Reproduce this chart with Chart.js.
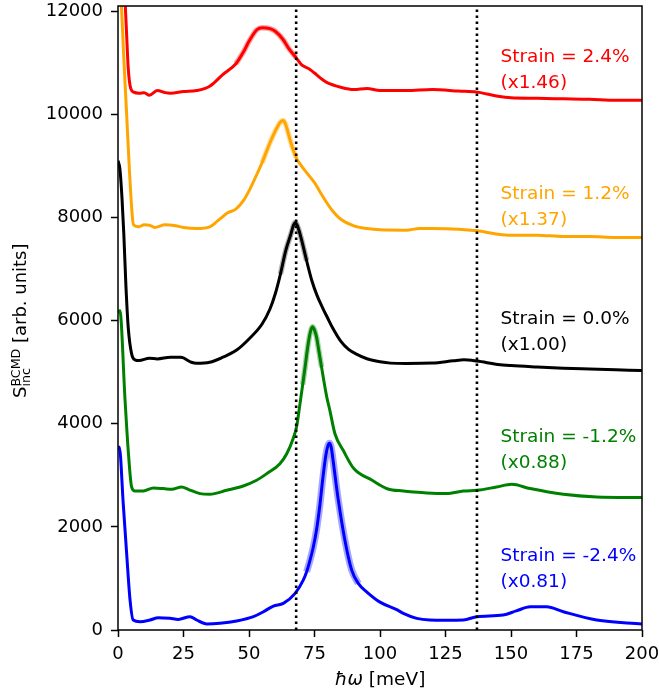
<!DOCTYPE html>
<html><head><meta charset="utf-8">
<script src="https://cdn.jsdelivr.net/npm/chart.js@4.4.1/dist/chart.umd.min.js"></script>
<style>html,body{margin:0;padding:0;background:#fff;}canvas{display:block;}</style>
</head><body>
<canvas id="c" width="659" height="696"></canvas>
<script>
// ---- data (energy in meV, intensity in arb. units, already scaled & offset as plotted) ----
const energyRed = [0,1,2,2.7,3.3,3.9,4.8,6,8,10,12,15,18,20,25,30,35,40,45,48,50,53,55,58,60,63,65,68,70,73,75,78,80,85,90,95,100,110,120,130,137,145,150,160,170,180,190,200];
const strainRed = [16000,14500,13000,12200,11540,10900,10510,10430,10410,10420,10370,10460,10420,10410,10440,10460,10545,10770,10980,11220,11415,11640,11680,11660,11610,11450,11290,11095,10965,10880,10800,10675,10610,10525,10480,10500,10460,10460,10480,10450,10430,10350,10320,10310,10300,10290,10270,10270];

const energyOrange = [0,1.4,2.3,3.3,4.3,5.5,6,8,10,12,14,18,22,25,30,35,38,42,45,48,50,53,55,58,60,61,62,63,63.8,64.5,66,68,70,73,75,78,80,82,85,90,95,100,110,115,120,130,137,145,150,160,170,180,190,200];
const strainOrange = [13500,12000,11000,10000,8970,8000,7850,7820,7856,7850,7805,7856,7837,7805,7785,7817,7933,8094,8160,8334,8514,8837,9062,9449,9675,9770,9850,9880,9830,9720,9449,9160,9000,8805,8675,8420,8260,8120,7966,7837,7785,7760,7753,7785,7785,7772,7740,7676,7656,7656,7630,7630,7611,7611];

const energyBlack = [0,0.7,1.5,2.2,3,3.9,5.2,6.5,8,12,15,20,24,28,30,35,40,45,50,55,58,60,62,64,66,67,67.6,68.3,69,70,72,74,76,78,80,82,85,88,91,95,100,104,110,120,128,132,137,145,150,160,170,180,190,200];
const strainBlack = [9100,8950,8400,7700,6700,5869,5354,5238,5225,5269,5256,5289,5289,5192,5172,5192,5289,5418,5644,5934,6225,6515,6902,7353,7680,7850,7900,7860,7760,7579,7160,6773,6483,6257,6050,5850,5600,5440,5350,5260,5200,5175,5170,5175,5220,5240,5215,5150,5128,5100,5076,5060,5045,5030];

const energyGreen = [0,0.7,2.7,3.9,5.2,6.5,9.7,13.5,17.3,20.5,24.3,26.8,31.3,35,41.5,47.8,52.9,56.8,61.8,64.4,66.9,68.2,69.5,70.5,71.4,72.3,73,73.7,74.3,74.9,75.8,76.7,77.7,79.7,80.9,82.8,86,90,97,103,108.9,112.7,117.8,125.4,131.8,137,144.5,150.3,157.3,170,182.7,200];
const strainGreen = [6150,6190,4450,3483,2773,2696,2696,2754,2742,2728,2773,2728,2645,2632,2709,2792,2903,3032,3226,3419,3720,3950,4400,4760,5095,5450,5675,5830,5880,5830,5675,5400,5095,4514,4250,3806,3480,3130,2903,2735,2696,2677,2657,2645,2696,2709,2773,2825,2742,2632,2580,2567];

const energyBlue = [0,0.5,2,3.3,4.6,5.8,8.4,12.2,15.4,19.8,23,27.5,30,33.9,38.9,45.3,51.7,55.5,59.3,63.1,67.6,70.7,72,73.3,74.5,75.8,77,78.2,79.3,80.1,80.7,81.3,82.2,83.2,84.1,86.6,89.2,91.7,94.9,100,106.4,108.9,114,119,125,131.8,137,147,152,157.3,163.6,170,182.7,200];
const strainBlue = [3500,3547,2452,1484,580,194,161,194,238,226,206,258,194,116,129,174,258,354,464,516,710,968,1130,1355,1600,1950,2400,2950,3380,3570,3620,3560,3250,2850,2516,1742,1161,903,741,540,395,323,226,194,190,194,258,290,370,451,451,354,194,116];

const seriesNames = ['Strain = 2.4%','Strain = 1.2%','Strain = 0.0%','Strain = -1.2%','Strain = -2.4%'];
const scaleFactors = ['(x1.46)','(x1.37)','(x1.00)','(x0.88)','(x0.81)'];
const labelAnchorE = 146;
const labelAnchorY = [11110, 8450, 6031, 3740, 1432];
const markerEnergies = [68, 137];
const xTicks = [0,25,50,75,100,125,150,175,200];
const yTicks = [0,2000,4000,6000,8000,10000,12000];
// energy windows where the uncertainty band is visibly wider than the line
const bandWindows = [[44,68],[55,69],[62,73],[70,79],[72,92]];

// ---- styling ----
const colors = ['#ff0000','#ffa500','#000000','#008000','#0000ff'];
const bandColors = ['rgba(255,0,0,0.35)','rgba(255,165,0,0.35)','rgba(0,0,0,0.3)','rgba(0,128,0,0.35)','rgba(0,0,255,0.35)'];
const FONT = '"DejaVu Sans", sans-serif';
const pts = (xs, ys) => xs.map((x, i) => ({x, y: ys[i]}));
const curves = [
  pts(energyRed, strainRed), pts(energyOrange, strainOrange), pts(energyBlack, strainBlack),
  pts(energyGreen, strainGreen), pts(energyBlue, strainBlue)
];
const datasets = [];
markerEnergies.forEach(e => datasets.push({
  data: [{x: e, y: yTicks[0]}, {x: e, y: 12100}],
  borderColor: '#000', borderWidth: 2.6, borderDash: [2.6, 3.4], pointRadius: 0, order: 0
}));
curves.forEach((d, i) => datasets.push({
  label: seriesNames[i], data: d, borderColor: colors[i], borderWidth: 3,
  pointRadius: 0, cubicInterpolationMode: 'monotone', order: 1
}));
curves.forEach((d, i) => datasets.push({
  data: d.filter(p => p.x >= bandWindows[i][0] && p.x <= bandWindows[i][1]),
  borderColor: bandColors[i], borderWidth: i === 4 ? 7 : 5.5,
  pointRadius: 0, cubicInterpolationMode: 'monotone', order: 2
}));

const decor = {
  id: 'decor',
  afterDraw(chart) {
    const ctx = chart.ctx, a = chart.chartArea;
    const xs = chart.scales.x, ys = chart.scales.y;
    ctx.save();
    ctx.strokeStyle = '#000'; ctx.lineWidth = 1.5;
    ctx.strokeRect(a.left, a.top, a.right - a.left, a.bottom - a.top);
    // series labels
    ctx.textAlign = 'left'; ctx.textBaseline = 'middle';
    ctx.font = '18.5px ' + FONT;
    const lx = xs.getPixelForValue(labelAnchorE);
    seriesNames.forEach((n, i) => {
      const py = ys.getPixelForValue(labelAnchorY[i]);
      ctx.fillStyle = colors[i];
      ctx.fillText(n, lx, py);
      ctx.fillText(scaleFactors[i], lx, py + 25.8);
    });
    // x axis title
    ctx.fillStyle = '#000';
    const cx = (a.left + a.right) / 2;
    ctx.font = 'italic 18.5px ' + FONT;
    const p1 = 'ħω';
    const w1 = ctx.measureText(p1).width;
    ctx.font = '18.5px ' + FONT;
    const p2 = ' [meV]';
    const w2 = ctx.measureText(p2).width;
    let sx = cx - (w1 + w2) / 2;
    ctx.font = 'italic 18.5px ' + FONT;
    ctx.fillText(p1, sx, 680);
    ctx.font = '18.5px ' + FONT;
    ctx.fillText(p2, sx + w1, 680);
    // y axis title (rotated)
    ctx.translate(26, 398);
    ctx.rotate(-Math.PI / 2);
    ctx.textBaseline = 'alphabetic';
    ctx.font = '18px ' + FONT;
    ctx.fillText('S', 0, 0);
    const ws = ctx.measureText('S').width;
    ctx.font = '12.6px ' + FONT;
    ctx.fillText('BCMD', ws, -6.5);
    const wsup = ctx.measureText('BCMD').width;
    ctx.fillText('inc', ws, 3.5);
    const wsub = ctx.measureText('inc').width;
    ctx.font = '18px ' + FONT;
    ctx.fillText(' [arb. units]', ws + Math.max(wsup, wsub), 0);
    ctx.restore();
  }
};

new Chart(document.getElementById('c'), {
  type: 'line',
  data: { datasets },
  options: {
    responsive: false, animation: false, devicePixelRatio: 1,
    layout: { padding: { top: 6, right: 17, bottom: 0, left: 0 } },
    plugins: { legend: { display: false }, tooltip: { enabled: false } },
    scales: {
      x: {
        type: 'linear', min: 0, max: 200,
        afterBuildTicks: s => { s.ticks = xTicks.map(v => ({value: v})); },
        afterFit: s => { s.height = 66; s.paddingLeft = 0; s.paddingRight = 0; },
        border: { display: false },
        grid: { drawOnChartArea: false, drawTicks: true, tickLength: 7, tickColor: '#000', tickWidth: 1.5 },
        ticks: { color: '#000', font: { family: FONT, size: 18 }, padding: 7, maxRotation: 0, callback: v => String(v) }
      },
      y: {
        type: 'linear', min: 0, max: 12100,
        afterBuildTicks: s => { s.ticks = yTicks.map(v => ({value: v})); },
        afterFit: s => { s.width = 118; s.paddingTop = 0; s.paddingBottom = 0; },
        border: { display: false },
        grid: { drawOnChartArea: false, drawTicks: true, tickLength: 7, tickColor: '#000', tickWidth: 1.5 },
        ticks: { color: '#000', font: { family: FONT, size: 18 }, padding: 8, callback: v => String(v) }
      }
    }
  },
  plugins: [decor]
});
</script>
</body></html>
